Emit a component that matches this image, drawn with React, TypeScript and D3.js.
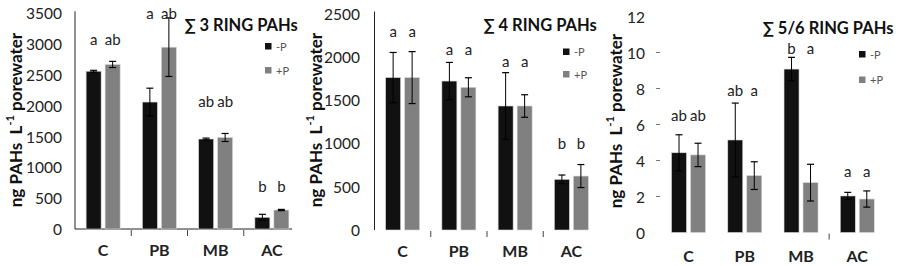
import React from 'react';
import * as d3 from 'd3';

const categories = ['C', 'PB', 'MB', 'AC'];
const seriesNames = ['-P', '+P'];

const ring3Titles = '∑ 3 RING PAHs';
const ring3MinusP = [2560, 2060, 1460, 190];
const ring3PlusP = [2670, 2950, 1485, 308];
const ring3MinusPErr = [15, 225, 15, 48];
const ring3PlusPErr = [50, 475, 65, 10];
const ring3LettersMinus = ['a', 'a', 'ab', 'b'];
const ring3LettersPlus = ['ab', 'ab', 'ab', 'b'];
const ring3LetterLevel = [3083, 3510, 2077, 698];
const ring3Ticks = [0, 500, 1000, 1500, 2000, 2500, 3000, 3500];

const ring4Title = '∑ 4 RING PAHs';
const ring4MinusP = [1760, 1720, 1432, 585];
const ring4PlusP = [1760, 1648, 1432, 623];
const ring4MinusPErr = [290, 215, 385, 50];
const ring4PlusPErr = [300, 110, 130, 133];
const ring4LettersMinus = ['a', 'a', 'a', 'b'];
const ring4LettersPlus = ['a', 'a', 'a', 'b'];
const ring4LetterLevel = [2298, 2090, 1951, 1008];
const ring4Ticks = [0, 500, 1000, 1500, 2000, 2500];

const ring56Title = '∑ 5/6 RING PAHs';
const ring56MinusP = [4.43, 5.14, 9.08, 2.03];
const ring56PlusP = [4.31, 3.16, 2.77, 1.86];
const ring56MinusPErr = [1.0, 2.05, 0.65, 0.2];
const ring56PlusPErr = [0.65, 0.77, 1.02, 0.45];
const ring56LettersMinus = ['ab', 'ab', 'b', 'a'];
const ring56LettersPlus = ['ab', 'a', 'a', 'a'];
const ring56LetterLevel = [6.53, 7.92, 10.23, 3.43];
const ring56Ticks = [0, 2, 4, 6, 8, 10, 12];

const FONT = 'Lato, "Open Sans", sans-serif';
const BLACK = '#111111';
const GRAY = '#808080';

type PanelProps = {
  title: string;
  minus: number[];
  plus: number[];
  minusErr: number[];
  plusErr: number[];
  lettersMinus: string[];
  lettersPlus: string[];
  letterLevel: number[];
  ticks: number[];
  left: number;
  right: number;
  y0: number;
  yTop: number;
  tickLabelX: number;
  yLabelX: number;
  yLabelY: number;
  catLabelY: number;
  titleX: number;
  titleY: number;
  legendX: number;
  legendY1: number;
  legendY2: number;
  yAxisLine: boolean;
  xAxisLine: boolean;
  xAxisEnd: number;
  xTickIdx: number[];
  yTickDash: boolean;
};

function Panel(p: PanelProps) {
  const max = p.ticks[p.ticks.length - 1];
  const y = d3.scaleLinear().domain([0, max]).range([p.y0, p.yTop]);
  const x = d3.scaleBand<string>().domain(categories).range([p.left, p.right]);
  const bw = 15;
  const series = [
    { vals: p.minus, errs: p.minusErr, letters: p.lettersMinus, color: BLACK, off: -17 },
    { vals: p.plus, errs: p.plusErr, letters: p.lettersPlus, color: GRAY, off: 2 },
  ];
  const boundaries = categories.slice(1).map((c) => x(c) as number);
  return (
    <g>
      {p.yAxisLine && (
        <line x1={p.left} x2={p.left} y1={p.yTop - 2} y2={p.y0} stroke="#222" strokeWidth={1} />
      )}
      {p.xAxisLine && (
        <line x1={p.left} x2={p.xAxisEnd} y1={p.y0} y2={p.y0} stroke="#222" strokeWidth={1} />
      )}
      {p.xTickIdx.map((i) => (
        <line key={'xt' + i} x1={boundaries[i]} x2={boundaries[i]} y1={p.y0 + 1} y2={p.y0 + 7} stroke="#444" strokeWidth={1} />
      ))}
      {p.ticks.map((t) => (
        <g key={'t' + t}>
          <text x={p.tickLabelX} y={y(t)} textAnchor="end" dominantBaseline="central" fontFamily={FONT} fontSize={15.5} fill="#222">
            {t}
          </text>
          {p.yTickDash && t > 0 && t < max && (
            <line x1={p.tickLabelX + 11} x2={p.tickLabelX + 15} y1={y(t)} y2={y(t)} stroke="#777" strokeWidth={1} />
          )}
        </g>
      ))}
      {series.map((s, si) =>
        categories.map((c, i) => {
          const cx = (x(c) as number) + x.bandwidth() / 2;
          const bx = cx + s.off;
          const v = s.vals[i];
          const e = s.errs[i];
          const mid = bx + bw / 2;
          return (
            <g key={si + c}>
              <rect x={bx} y={y(v)} width={bw} height={p.y0 - y(v)} fill={s.color} stroke="#d8d8d8" strokeWidth={0.6} />
              <line x1={mid} x2={mid} y1={y(v + e)} y2={y(Math.max(0, v - e))} stroke="#000" strokeWidth={1} />
              <line x1={mid - 3.5} x2={mid + 3.5} y1={y(v + e)} y2={y(v + e)} stroke="#000" strokeWidth={1.2} />
              <line x1={mid - 3.5} x2={mid + 3.5} y1={y(Math.max(0, v - e))} y2={y(Math.max(0, v - e))} stroke="#000" strokeWidth={1.2} />
              <text x={mid} y={y(p.letterLevel[i])} textAnchor="middle" dominantBaseline="central" fontFamily={FONT} fontSize={15} fill="#222">
                {s.letters[i]}
              </text>
            </g>
          );
        })
      )}
      {categories.map((c) => (
        <text key={'c' + c} x={(x(c) as number) + x.bandwidth() / 2} y={p.catLabelY} textAnchor="middle" dominantBaseline="central" fontFamily={FONT} fontWeight="bold" fontSize={16} fill="#222">
          {c}
        </text>
      ))}
      <text
        transform={`translate(${p.yLabelX},${p.yLabelY}) rotate(-90)`}
        textAnchor="middle"
        dominantBaseline="central"
        fontFamily={FONT}
        fontWeight="bold"
        fontSize={17}
        fill="#111"
      >
        {'ng PAHs\u00a0\u00a0L'}<tspan fontSize={11} dy={-6}>-1</tspan>
        <tspan dy={6}>{'\u00a0porewater'}</tspan>
      </text>
      <text x={p.titleX} y={p.titleY} textAnchor="middle" dominantBaseline="central" fontFamily={FONT} fontWeight="bold" fontSize={16.5} fill="#111">
        {p.title}
      </text>
      <rect x={p.legendX} y={p.legendY1 - 3} width={6.5} height={6.5} fill={BLACK} />
      <text x={p.legendX + 11} y={p.legendY1} dominantBaseline="central" fontFamily={FONT} fontSize={11} fill="#555">
        {seriesNames[0]}
      </text>
      <rect x={p.legendX} y={p.legendY2 - 3} width={6.5} height={6.5} fill={GRAY} />
      <text x={p.legendX + 11} y={p.legendY2} dominantBaseline="central" fontFamily={FONT} fontSize={11} fill="#555">
        {seriesNames[1]}
      </text>
    </g>
  );
}

export default function App() {
  return (
    <svg width={901} height={266} style={{ position: 'absolute', left: 0, top: 0, background: '#fff' }}>
      <rect x={0} y={0} width={901} height={266} fill="#fff" />
      <Panel
        title={ring3Titles}
        minus={ring3MinusP}
        plus={ring3PlusP}
        minusErr={ring3MinusPErr}
        plusErr={ring3PlusPErr}
        lettersMinus={ring3LettersMinus}
        lettersPlus={ring3LettersPlus}
        letterLevel={ring3LetterLevel}
        ticks={ring3Ticks}
        left={75}
        right={300}
        y0={229}
        yTop={13.3}
        tickLabelX={62}
        yLabelX={15}
        yLabelY={120}
        catLabelY={249}
        titleX={241}
        titleY={25}
        legendX={265}
        legendY1={46}
        legendY2={70}
        yAxisLine={true}
        xAxisLine={true}
        xAxisEnd={292}
        xTickIdx={[0, 1, 2]}
        yTickDash={false}
      />
      <Panel
        title={ring4Title}
        minus={ring4MinusP}
        plus={ring4PlusP}
        minusErr={ring4MinusPErr}
        plusErr={ring4PlusPErr}
        lettersMinus={ring4LettersMinus}
        lettersPlus={ring4LettersPlus}
        letterLevel={ring4LetterLevel}
        ticks={ring4Ticks}
        left={374.5}
        right={599.5}
        y0={230}
        yTop={13.5}
        tickLabelX={360}
        yLabelX={315}
        yLabelY={120}
        catLabelY={250}
        titleX={540}
        titleY={25}
        legendX={563}
        legendY1={51.5}
        legendY2={74}
        yAxisLine={true}
        xAxisLine={false}
        xAxisEnd={599}
        xTickIdx={[0, 1, 2]}
        yTickDash={false}
      />
      <Panel
        title={ring56Title}
        minus={ring56MinusP}
        plus={ring56PlusP}
        minusErr={ring56MinusPErr}
        plusErr={ring56PlusPErr}
        lettersMinus={ring56LettersMinus}
        lettersPlus={ring56LettersPlus}
        letterLevel={ring56LetterLevel}
        ticks={ring56Ticks}
        left={660.4}
        right={885.4}
        y0={232.5}
        yTop={16.5}
        tickLabelX={645}
        yLabelX={615}
        yLabelY={121}
        catLabelY={255}
        titleX={828}
        titleY={28}
        legendX={859}
        legendY1={54}
        legendY2={79.5}
        yAxisLine={false}
        xAxisLine={false}
        xAxisEnd={885}
        xTickIdx={[2]}
        yTickDash={true}
      />
    </svg>
  );
}
